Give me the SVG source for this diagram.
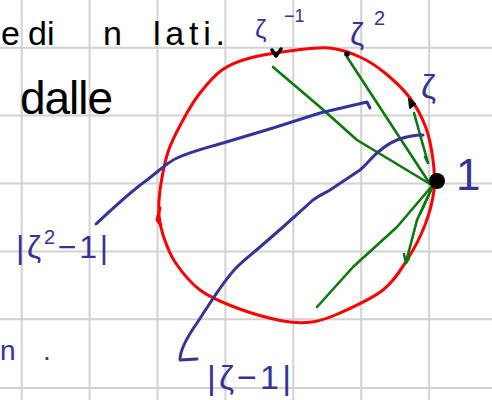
<svg xmlns="http://www.w3.org/2000/svg" width="492" height="400" viewBox="0 0 492 400">
<style>
.grid{stroke:#d2d2d2;stroke-width:2;fill:none}
.red{stroke:#ff0000;stroke-width:3;fill:none;stroke-linejoin:round;stroke-linecap:round}
.green{stroke:#0a7a0a;stroke-width:2.6;fill:none;stroke-linejoin:round;stroke-linecap:round}
.blue{stroke:#333399;stroke-width:3;fill:none;stroke-linejoin:round;stroke-linecap:round}
.ink{fill:#000;font-family:"Liberation Sans",Arial,sans-serif}
.bl{fill:#333399;font-family:"Liberation Sans",Arial,sans-serif}
</style>
<rect width="492" height="400" fill="#ffffff"/>
<g id="grid" class="grid">
<path d="M21.7,0V400M89.6,0V400M157.5,0V400M225.4,0V400M293.3,0V400M361.2,0V400M429.1,0V400"/>
<path d="M0,47.7H492M0,115.6H492M0,183.5H492M0,251.4H492M0,319.3H492M0,388H492"/>
</g>
<g id="notes">
<text class="ink" font-size="34" y="45"><tspan x="1">e</tspan><tspan x="28">di</tspan><tspan x="103">n</tspan></text>
<text class="ink" font-size="34" x="153" y="45" textLength="72" lengthAdjust="spacing">lati.</text>
<text class="ink" font-size="46" x="20" y="114" textLength="93" lengthAdjust="spacing">dalle</text>
<text class="bl" font-size="28" y="360"><tspan x="0">n</tspan><tspan x="43">.</tspan></text>
</g>
<g id="circle">
<path class="red" d="M330,48 C319.5,46.8 310.3,48.3 297,50 C283.7,51.7 262.5,54.7 250,58 C237.5,61.3 230.3,64.2 222,70 C213.7,75.8 206.5,84.7 200,93 C193.5,101.3 188.3,110.2 183,120 C177.7,129.8 171.8,140.3 168,152 C164.2,163.7 161.5,179.5 160,190 C158.5,200.5 158.5,207.5 159,215 C159.5,222.5 160.3,227.2 163,235 C165.7,242.8 168.8,252.8 175,262 C181.2,271.2 189.7,282.3 200,290 C210.3,297.7 223.2,302.8 237,308 C250.8,313.2 270.5,318.7 283,321 C295.5,323.3 302.5,323.3 312,322 C321.5,320.7 328.2,318.3 340,313 C351.8,307.7 371.8,298.8 383,290 C394.2,281.2 400,270.8 407,260 C414,249.2 420.5,236.7 425,225 C429.5,213.3 432.7,200.8 434,190 C435.3,179.2 434.3,170.3 433,160 C431.7,149.7 429.8,138.3 426,128 C422.2,117.7 416.8,107.2 410,98 C403.2,88.8 393.3,79.8 385,73 C376.7,66.2 369.2,61.2 360,57 C350.8,52.8 340.5,49.2 330,48 Z"/>
<path class="red" d="M160,208 L157,220 L161,225"/>
</g>
<g id="connectors">
<g id="chords" class="green">
<path d="M273,67 L320,107 L357,140 L430,184"/>
<path d="M347,57 L430,184"/>
<path d="M414,113 L428,163 M425,157 L428,163"/>
<path d="M432,186 L397,227 L353,267 L317,307"/>
<path d="M432,188 L417,220 L410,247 L406,262 M404,254 L406,263 L409,258"/>
<path d="M431,190 L420,214"/>
</g>
<g id="arrows" class="blue">
<path d="M96,224 C110,211 130,192 147,180 C160,170 168,162 177,158 C195,150 210,147 223,143 L273,128 L320,113 L367,102 L370,108"/>
<path d="M197,359 L180,360 C180,352 185,340 197,323 L212,300 C220,288 228,276 237,267 C245,259 252,254 260,247 L283,227 L313,200 C320,195 325,193 330,190 L360,170 C367,164 372,157 377,153 C385,146 392,142 397,140 C405,137 415,135 423,135"/>
</g>
</g>
<g id="vertices">
<circle cx="437" cy="181" r="8" fill="#000"/>
<path d="M272,50 L276,56 L281,49" stroke="#000" stroke-width="3.5" fill="none" stroke-linecap="round" stroke-linejoin="round"/>
<circle cx="347" cy="54" r="2.8" fill="#000"/>
<path d="M409,99 L415,104 L410,108 Z" fill="#000" stroke="#000" stroke-width="2" stroke-linejoin="round"/>
</g>
<g id="labels">
<text class="bl" font-size="44" x="456" y="190">1</text>
<text class="bl" font-size="34" x="421" y="98">ζ</text>
<text class="bl" font-size="32" x="350" y="45">ζ</text>
<text class="bl" font-size="20" x="374" y="25">2</text>
<text class="bl" font-size="26" x="255" y="38">ζ</text>
<text class="bl" font-size="18" x="284" y="22">−1</text>
<text class="bl" font-size="32" x="16" y="258" textLength="92" lengthAdjust="spacing">|ζ<tspan font-size="20" dy="-14">2</tspan><tspan dy="14">−1|</tspan></text>
<text class="bl" font-size="34" x="207" y="389" textLength="84" lengthAdjust="spacing">|ζ−1|</text>
</g>
</svg>
